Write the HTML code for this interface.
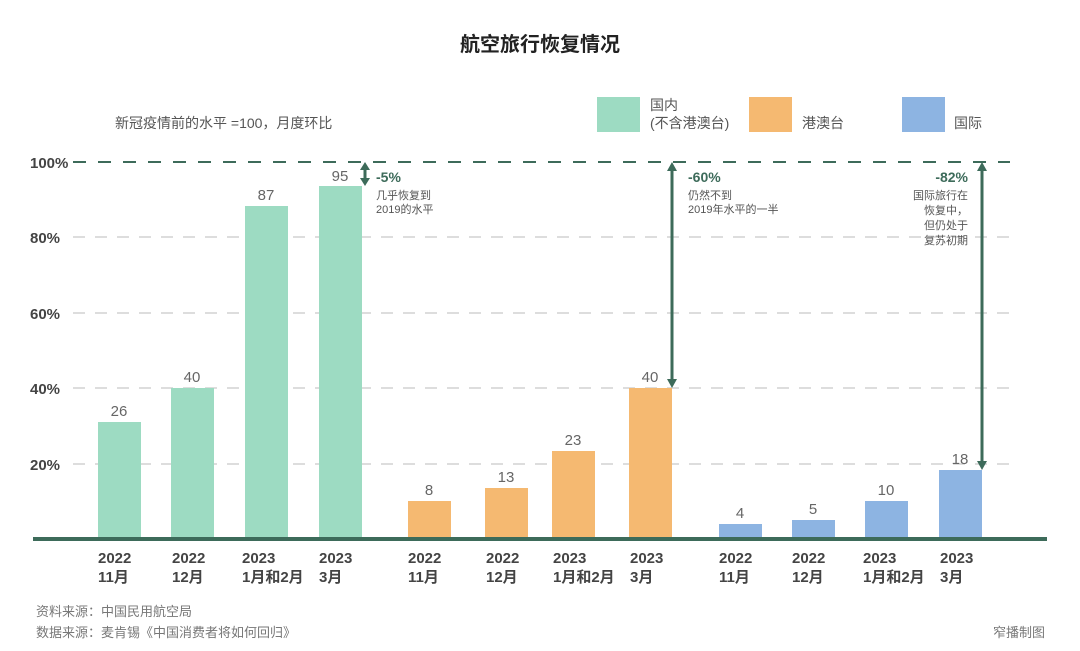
<!DOCTYPE html><html><head><meta charset="utf-8"><style>body{margin:0;background:#fff}svg{display:block}text{font-family:"Liberation Sans","Noto Sans CJK SC",sans-serif}</style></head><body>
<svg width="1080" height="651" viewBox="0 0 1080 651">
<text x="540" y="51" text-anchor="middle" font-size="20" font-weight="bold" fill="#222">航空旅行恢复情况</text>
<text x="115" y="128" font-size="14" fill="#555">新冠疫情前的水平 =100，月度环比</text>
<rect x="597" y="97" width="43" height="35" fill="#9ddbc2"/><text x="650" y="110" font-size="14" fill="#555">国内</text><text x="650" y="128" font-size="14" fill="#555">(不含港澳台)</text>
<rect x="749" y="97" width="43" height="35" fill="#f5b971"/><text x="802" y="128" font-size="14" fill="#555">港澳台</text>
<rect x="902" y="97" width="43" height="35" fill="#8db4e2"/><text x="954" y="128" font-size="14" fill="#555">国际</text>
<g stroke="#ddd" stroke-width="2" stroke-dasharray="12,10"><line x1="73" y1="237" x2="1010" y2="237"/><line x1="73" y1="313" x2="1010" y2="313"/><line x1="73" y1="388" x2="1010" y2="388"/><line x1="73" y1="464" x2="1010" y2="464"/></g>
<line x1="73" y1="162" x2="1010" y2="162" stroke="#3d6b5a" stroke-width="2" stroke-dasharray="13,12"/>
<g font-size="15" font-weight="bold" fill="#444"><text x="30" y="168">100%</text><text x="30" y="243">80%</text><text x="30" y="319">60%</text><text x="30" y="394">40%</text><text x="30" y="470">20%</text></g>
<g fill="#9ddbc2"><rect x="98" y="422" width="43" height="116"/><rect x="171" y="388" width="43" height="150"/><rect x="245" y="206" width="43" height="332"/><rect x="319" y="186" width="43" height="352"/></g>
<g fill="#f5b971"><rect x="408" y="501" width="43" height="37"/><rect x="485" y="488" width="43" height="50"/><rect x="552" y="451" width="43" height="87"/><rect x="629" y="388" width="43" height="150"/></g>
<g fill="#8db4e2"><rect x="719" y="524" width="43" height="14"/><rect x="792" y="520" width="43" height="18"/><rect x="865" y="501" width="43" height="37"/><rect x="939" y="470" width="43" height="68"/></g>
<g font-size="15" fill="#666" text-anchor="middle"><text x="119" y="416">26</text><text x="192" y="382">40</text><text x="266" y="200">87</text><text x="340" y="181">95</text><text x="429" y="495">8</text><text x="506" y="482">13</text><text x="573" y="445">23</text><text x="650" y="382">40</text><text x="740" y="518">4</text><text x="813" y="514">5</text><text x="886" y="495">10</text><text x="960" y="464">18</text></g>
<line x1="33" y1="539" x2="1047" y2="539" stroke="#3d6b5a" stroke-width="4"/>
<g stroke="#3d6b5a" stroke-width="3" fill="#3d6b5a"><line x1="365" y1="168" x2="365" y2="180"/><path d="M360 170 L365 162 L370 170Z M360 178 L365 186 L370 178Z" stroke="none"/>
<line x1="672" y1="168" x2="672" y2="382"/><path d="M667 171 L672 162 L677 171Z M667 379 L672 388 L677 379Z" stroke="none"/>
<line x1="982" y1="168" x2="982" y2="464"/><path d="M977 171 L982 162 L987 171Z M977 461 L982 470 L987 461Z" stroke="none"/></g>
<g font-size="14" font-weight="bold" fill="#3d6b5a"><text x="376" y="182">-5%</text><text x="688" y="182">-60%</text><text x="968" y="182" text-anchor="end">-82%</text></g>
<g font-size="11" fill="#555"><text x="376" y="199">几乎恢复到</text><text x="376" y="213">2019的水平</text><text x="688" y="199">仍然不到</text><text x="688" y="213">2019年水平的一半</text>
<g text-anchor="end"><text x="968" y="199">国际旅行在</text><text x="968" y="214">恢复中，</text><text x="968" y="229">但仍处于</text><text x="968" y="244">复苏初期</text></g></g>
<g font-size="15" font-weight="bold" fill="#444">
<text x="98" y="563">2022</text><text x="98" y="582">11月</text><text x="172" y="563">2022</text><text x="172" y="582">12月</text><text x="242" y="563">2023</text><text x="242" y="582">1月和2月</text><text x="319" y="563">2023</text><text x="319" y="582">3月</text>
<text x="408" y="563">2022</text><text x="408" y="582">11月</text><text x="486" y="563">2022</text><text x="486" y="582">12月</text><text x="553" y="563">2023</text><text x="553" y="582">1月和2月</text><text x="630" y="563">2023</text><text x="630" y="582">3月</text>
<text x="719" y="563">2022</text><text x="719" y="582">11月</text><text x="792" y="563">2022</text><text x="792" y="582">12月</text><text x="863" y="563">2023</text><text x="863" y="582">1月和2月</text><text x="940" y="563">2023</text><text x="940" y="582">3月</text></g>
<g font-size="13" fill="#777"><text x="36" y="616">资料来源：中国民用航空局</text><text x="36" y="637">数据来源：麦肯锡《中国消费者将如何回归》</text><text x="1045" y="637" text-anchor="end">窄播制图</text></g>
</svg></body></html>
